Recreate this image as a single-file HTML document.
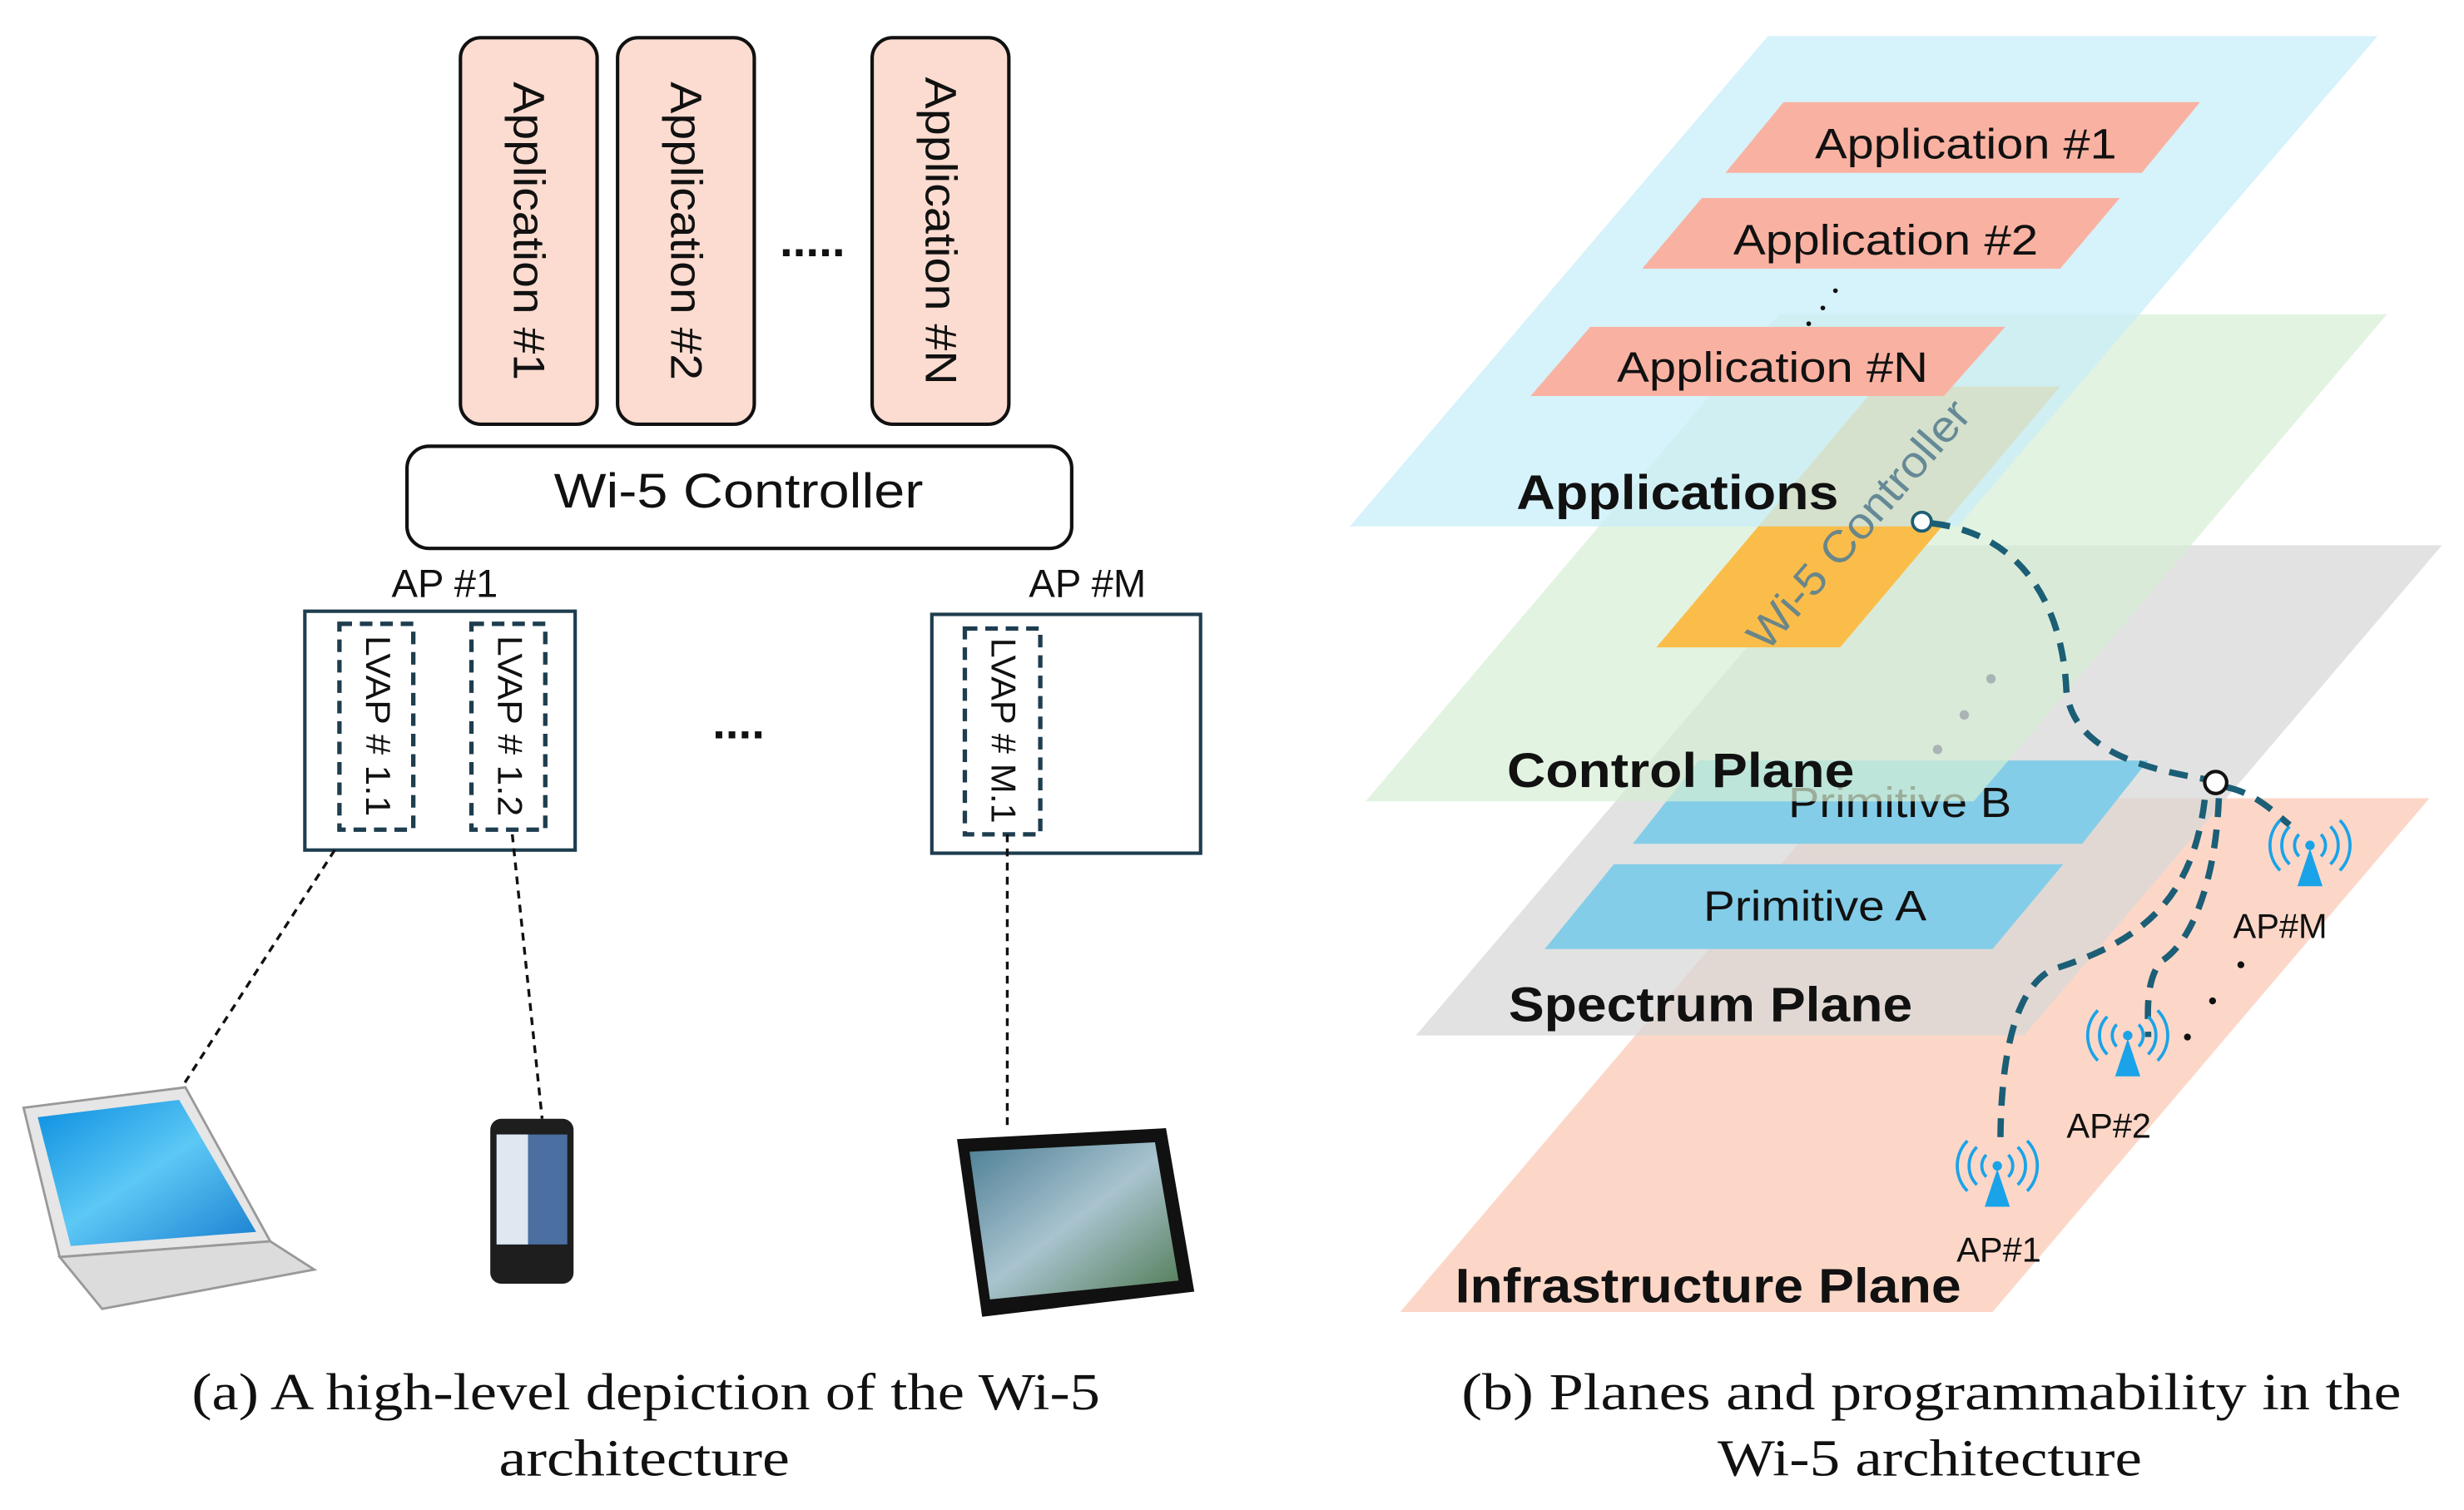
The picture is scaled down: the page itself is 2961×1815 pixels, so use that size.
<!DOCTYPE html>
<html><head><meta charset="utf-8"><style>html,body{margin:0;padding:0;background:#fff}svg{display:block}</style></head>
<body>
<svg width="2961" height="1815" viewBox="0 0 1568 961" preserveAspectRatio="none" xmlns="http://www.w3.org/2000/svg">
<defs>
<linearGradient id="scr" x1="0" y1="0" x2="1" y2="1"><stop offset="0" stop-color="#0a8de0"/><stop offset="0.5" stop-color="#5cc8f5"/><stop offset="1" stop-color="#1a7fd0"/></linearGradient>
<linearGradient id="tab" x1="0" y1="0" x2="1" y2="1"><stop offset="0" stop-color="#4d7f95"/><stop offset="0.5" stop-color="#a9c3cf"/><stop offset="1" stop-color="#4f7a52"/></linearGradient>
<g id="ant">
<polygon points="0,2 -8,26 8,26" fill="#1aa3e8"/>
<circle cx="0" cy="0" r="3" fill="#1aa3e8"/>
<path d="M-7,-7 A10,10 0 0 0 -7,7 M7,-7 A10,10 0 0 1 7,7 M-13,-12 A17,17 0 0 0 -13,12 M13,-12 A17,17 0 0 1 13,12 M-19,-16 A23,23 0 0 0 -19,16 M19,-16 A23,23 0 0 1 19,16" fill="none" stroke="#1aa3e8" stroke-width="2"/>
</g>
</defs>
<g font-family="Liberation Sans, sans-serif">
<!-- LEFT PANEL -->
<g fill="#fcdcd0" stroke="#111" stroke-width="2.2">
<rect x="293" y="24" width="87" height="246" rx="13"/>
<rect x="393" y="24" width="87" height="246" rx="13"/>
<rect x="555" y="24" width="87" height="246" rx="13"/>
</g>
<g font-size="28" fill="#111">
<text transform="translate(327,147) rotate(90)" text-anchor="middle" textLength="190" lengthAdjust="spacingAndGlyphs">Application #1</text>
<text transform="translate(427,147) rotate(90)" text-anchor="middle" textLength="190" lengthAdjust="spacingAndGlyphs">Application #2</text>
<text transform="translate(589,147) rotate(90)" text-anchor="middle" textLength="196" lengthAdjust="spacingAndGlyphs">Application #N</text>
</g>
<text x="517" y="163" font-size="30" font-weight="bold" text-anchor="middle" fill="#111">.....</text>
<rect x="259" y="284" width="423" height="65" rx="14" fill="#fff" stroke="#111" stroke-width="2.2"/>
<text x="470" y="323" font-size="31" text-anchor="middle" textLength="235" lengthAdjust="spacingAndGlyphs" fill="#111">Wi-5 Controller</text>
<text x="283" y="380" font-size="25" text-anchor="middle" fill="#111">AP #1</text>
<text x="692" y="380" font-size="25" text-anchor="middle" fill="#111">AP #M</text>
<g fill="none" stroke="#1e3d4f" stroke-width="2.2">
<rect x="194" y="389" width="172" height="152"/>
<rect x="593" y="391" width="171" height="152"/>
</g>
<g fill="none" stroke="#1e3d4f" stroke-width="2.8" stroke-dasharray="8,5">
<rect x="216" y="397" width="47" height="131"/>
<rect x="300" y="397" width="47" height="131"/>
<rect x="614" y="400" width="48" height="131"/>
</g>
<g font-size="22" fill="#111">
<text transform="translate(233,462) rotate(90)" text-anchor="middle" textLength="115" lengthAdjust="spacingAndGlyphs">LVAP # 1.1</text>
<text transform="translate(317,462) rotate(90)" text-anchor="middle" textLength="115" lengthAdjust="spacingAndGlyphs">LVAP # 1.2</text>
<text transform="translate(631,465) rotate(90)" text-anchor="middle" textLength="118" lengthAdjust="spacingAndGlyphs">LVAP # M.1</text>
</g>
<text x="470" y="470" font-size="30" font-weight="bold" text-anchor="middle" fill="#111">....</text>
<g stroke="#111" stroke-width="1.8" stroke-dasharray="5,4" fill="none">
<line x1="213" y1="541" x2="117" y2="690"/>
<line x1="326" y1="531" x2="345" y2="712"/>
<line x1="641" y1="531" x2="641" y2="716"/>
</g>
<!-- laptop -->
<polygon points="15,705 118,692 172,790 38,800" fill="#e6e6e6" stroke="#999" stroke-width="1.5"/>
<polygon points="24,711 114,700 163,784 45,793" fill="url(#scr)"/>
<polygon points="38,800 172,790 200,808 65,833" fill="#dcdcdc" stroke="#999" stroke-width="1.5"/>
<!-- phone -->
<rect x="312" y="712" width="53" height="105" rx="7" fill="#1e1e1e"/>
<rect x="316" y="722" width="45" height="70" fill="#4a6fa0"/>
<rect x="316" y="722" width="20" height="70" fill="#dfe7f0"/>
<!-- tablet -->
<polygon points="609,725 742,718 760,822 625,838" fill="#111"/>
<polygon points="617,733 735,727 750,815 630,827" fill="url(#tab)"/>
<g font-family="Liberation Serif, serif" font-size="33" fill="#111" text-anchor="middle">
<text x="411" y="897" textLength="578" lengthAdjust="spacingAndGlyphs">(a) A high-level depiction of the Wi-5</text>
<text x="410" y="939" textLength="185" lengthAdjust="spacingAndGlyphs">architecture</text>
</g>

<!-- RIGHT PANEL -->
<polygon points="1169,508 1546,508 1268,835 891,835" fill="#fcd3c2" fill-opacity="0.9"/>
<polygon points="1167,347 1554,347 1288,659 901,659" fill="#d8d8d8" fill-opacity="0.75"/>
<polygon points="1027,550 1313,550 1268,604 983,604" fill="#84cde8"/>
<polygon points="1081,484 1367,484 1325,537 1039,537" fill="#84cde8"/>
<text x="1155" y="586" font-size="27" text-anchor="middle" fill="#111" textLength="142" lengthAdjust="spacingAndGlyphs">Primitive A</text>
<text x="1209" y="520" font-size="27" text-anchor="middle" fill="#111" textLength="142" lengthAdjust="spacingAndGlyphs">Primitive B</text>
<polygon points="1132,200 1519,200 1256,510 869,510" fill="#d6f0d4" fill-opacity="0.7"/>
<polygon points="1194,246 1311,246 1171,412 1054,412" fill="#fbbd4a"/>
<polygon points="1125,23 1513,23 1246,335 859,335" fill="#c8eef8" fill-opacity="0.75"/>
<g fill="#f9b2a2">
<polygon points="1135,65 1400,65 1363,110 1098,110"/>
<polygon points="1083,126 1349,126 1311,171 1045,171"/>
<polygon points="1012,208 1276,208 1237,252 974,252"/>
</g>
<g font-size="27" fill="#111" text-anchor="middle">
<text x="1251" y="101" textLength="192" lengthAdjust="spacingAndGlyphs">Application #1</text>
<text x="1200" y="162" textLength="194" lengthAdjust="spacingAndGlyphs">Application #2</text>
<text x="1128" y="243" textLength="198" lengthAdjust="spacingAndGlyphs">Application #N</text>
</g>
<g fill="#111"><circle cx="1168" cy="185" r="1.5"/><circle cx="1160" cy="196" r="1.5"/><circle cx="1151" cy="206" r="1.5"/></g>
<g font-size="31" font-weight="bold" fill="#111">
<text x="965" y="324" textLength="205" lengthAdjust="spacingAndGlyphs">Applications</text>
<text x="959" y="501" textLength="221" lengthAdjust="spacingAndGlyphs">Control Plane</text>
<text x="960" y="650" textLength="257" lengthAdjust="spacingAndGlyphs">Spectrum Plane</text>
<text x="926" y="829" textLength="322" lengthAdjust="spacingAndGlyphs">Infrastructure Plane</text>
</g>
<text transform="translate(1190,340) rotate(-49)" font-size="28" text-anchor="middle" fill="#5a7f90" fill-opacity="0.9" textLength="200" lengthAdjust="spacingAndGlyphs">Wi-5 Controller</text>
<g fill="#aab4b4"><circle cx="1267" cy="432" r="3"/><circle cx="1250" cy="455" r="3"/><circle cx="1233" cy="477" r="3"/></g>
<g fill="none" stroke="#1b5e75" stroke-width="4" stroke-dasharray="12,8">
<path d="M1229,333 C1290,340 1313,390 1315,440 C1320,480 1370,490 1404,496"/>
<path d="M1417,501 C1435,505 1445,515 1457,525"/>
<path d="M1412,508 C1410,560 1395,600 1375,612 C1365,625 1367,645 1367,660"/>
<path d="M1403,509 C1395,575 1360,600 1306,617 C1280,630 1273,680 1273,728"/>
</g>
<circle cx="1223" cy="332" r="6" fill="#fff" stroke="#1b5e75" stroke-width="2"/>
<circle cx="1410" cy="498" r="7" fill="#fff" stroke="#111" stroke-width="2.2"/>
<use href="#ant" x="1470" y="538"/>
<use href="#ant" x="1354" y="659"/>
<use href="#ant" x="1271" y="742"/>
<g font-size="22" fill="#111" text-anchor="middle">
<text x="1451" y="597">AP#M</text>
<text x="1342" y="724">AP#2</text>
<text x="1272" y="803">AP#1</text>
</g>
<g fill="#111"><circle cx="1426" cy="614" r="2.2"/><circle cx="1408" cy="637" r="2.2"/><circle cx="1392" cy="660" r="2.2"/></g>
<g font-family="Liberation Serif, serif" font-size="33" fill="#111" text-anchor="middle">
<text x="1229" y="897" textLength="598" lengthAdjust="spacingAndGlyphs">(b) Planes and programmability in the</text>
<text x="1228" y="939" textLength="270" lengthAdjust="spacingAndGlyphs">Wi-5 architecture</text>
</g>
</g>
</svg>
</body></html>
